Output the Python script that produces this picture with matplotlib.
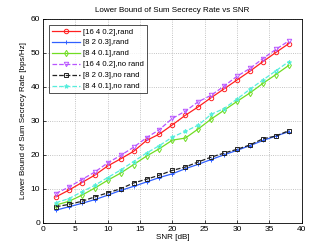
import matplotlib
matplotlib.use("Agg")
import matplotlib.pyplot as plt
import numpy as np

plt.rcParams['font.family'] = ['Liberation Sans', 'DejaVu Sans']

snr = np.arange(2, 40, 2)

rand_16_4 = [7.6, 9.6, 11.8, 14.0, 16.7, 18.8, 21.0, 24.2, 26.1, 28.8,
             31.6, 34.1, 36.8, 39.4, 42.0, 44.6, 47.4, 50.1, 52.7]
rand_8_2 = [3.7, 4.7, 5.7, 6.8, 8.1, 9.5, 10.7, 12.0, 13.3, 14.4,
            15.9, 17.2, 18.6, 20.0, 21.3, 22.7, 24.2, 25.5, 26.8]
rand_8_4 = [5.2, 6.3, 8.1, 10.2, 12.5, 14.6, 17.1, 19.6, 21.8, 24.3,
            24.9, 27.6, 30.5, 33.1, 35.7, 38.2, 41.0, 43.6, 46.3]
norand_16_4 = [8.6, 10.5, 12.7, 14.9, 17.6, 19.8, 22.2, 25.0, 27.4, 30.7,
               32.8, 35.6, 37.5, 40.2, 43.1, 45.4, 48.3, 51.0, 53.5]
norand_8_2 = [4.7, 5.4, 6.3, 7.6, 8.8, 10.0, 11.7, 12.8, 14.0, 15.4,
              16.4, 17.9, 19.3, 20.5, 21.6, 22.9, 24.7, 25.5, 27.1]
norand_8_4 = [5.9, 7.1, 9.1, 11.0, 13.3, 15.5, 18.0, 20.5, 22.7, 25.2,
              26.9, 28.7, 31.9, 33.6, 36.4, 39.3, 42.0, 44.7, 47.4]

labels = ["[16 4 0.2],rand", "[8 2 0.3],rand", "[8 4 0.1],rand",
          "[16 4 0.2],no rand", "[8 2 0.3],no rand", "[8 4 0.1],no rand"]

fig = plt.figure(figsize=(3.32, 2.5), dpi=100)
ax = fig.add_axes([0.1295, 0.109, 0.7795, 0.816])

kw = dict(lw=0.9, ms=3.2, mew=0.7)
ax.plot(snr, rand_16_4, "-o", color="#ff2020", mfc="none", label=labels[0], **kw)
ax.plot(snr, rand_8_2, "-+", color="#3060ff", label=labels[1], **kw)
ax.plot(snr, rand_8_4, "-d", color="#70dd22", mfc="none", label=labels[2], **kw)
ax.plot(snr, norand_16_4, "--v", color="#b855ff", mfc="none", label=labels[3], **kw)
ax.plot(snr, norand_8_2, "--s", color="#222222", mfc="none", label=labels[4], **kw)
ax.plot(snr, norand_8_4, "--*", color="#55eedd", mfc="none", label=labels[5], **kw)

ax.set_xlim(0, 40)
ax.set_ylim(0, 60)
ax.set_xticks(range(0, 45, 5))
ax.set_yticks(range(0, 70, 10))
ax.grid(True, ls=":", color="#b0b0b0", lw=0.6)
ax.tick_params(labelsize=6, direction="in", length=2, width=0.5, pad=2)
for s in ax.spines.values():
    s.set_linewidth(0.6)
ax.set_xlabel("SNR [dB]", fontsize=5.8, labelpad=1)
ax.set_ylabel("Lower Bound of Sum Secrecy Rate [bps/Hz]", fontsize=5.8, labelpad=3)
ax.set_title("Lower Bound of Sum Secrecy Rate vs SNR", fontsize=5.8, pad=5)

leg = ax.legend(loc="upper left", fontsize=5.6, fancybox=False, edgecolor="black",
                handlelength=3.5, borderaxespad=0.8, labelspacing=0.45,
                handletextpad=0.4, borderpad=0.4)
leg.get_frame().set_linewidth(0.6)

fig.savefig("out.png", dpi=100)
